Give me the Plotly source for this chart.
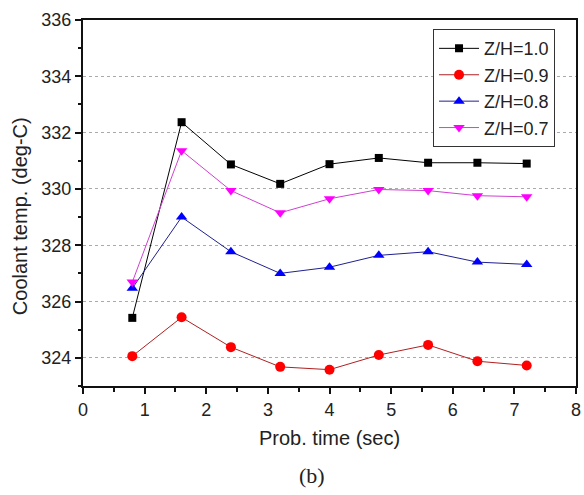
import plotly.graph_objects as go

time_s = [0.8, 1.6, 2.4, 3.2, 4.0, 4.8, 5.6, 6.4, 7.2]
zh_10 = [325.42, 332.37, 330.87, 330.18, 330.88, 331.10, 330.93, 330.93, 330.90]
zh_09 = [324.06, 325.44, 324.38, 323.68, 323.58, 324.10, 324.46, 323.88, 323.73]
zh_08 = [326.47, 329.00, 327.77, 327.00, 327.22, 327.64, 327.77, 327.40, 327.32]
zh_07 = [326.69, 331.36, 329.94, 329.15, 329.65, 329.98, 329.94, 329.76, 329.72]

series = [
    ("Z/H=1.0", zh_10, "#000000", "#000000", "square", 8),
    ("Z/H=0.9", zh_09, "#ff0000", "#b02020", "circle", 10),
    ("Z/H=0.8", zh_08, "#0000ff", "#202090", "triangle-up", 10),
    ("Z/H=0.7", zh_07, "#ff00ff", "#d040d0", "triangle-down", 10),
]

fig = go.Figure()
for name, ys, mcol, lcol, sym, sz in series:
    fig.add_trace(go.Scatter(
        x=time_s, y=ys, name=name, mode="lines+markers",
        line=dict(color=lcol, width=1),
        marker=dict(color=mcol, symbol=sym, size=sz, line=dict(width=0)),
    ))

font = "Arial, Liberation Sans, sans-serif"
fig.update_layout(
    width=584, height=495,
    margin=dict(l=83, r=8, t=20, b=109, autoexpand=False),
    paper_bgcolor="white", plot_bgcolor="white",
    font=dict(family=font, size=18, color="#222222"),
    showlegend=True,
    legend=dict(
        x=0.71, y=0.975, xanchor="left", yanchor="top",
        bgcolor="white", bordercolor="#333333", borderwidth=1,
        font=dict(family=font, size=18, color="#222222"),
        itemwidth=40, tracegroupgap=0,
    ),
    xaxis=dict(
        range=[0, 8], dtick=1, tick0=0, automargin=False,
        showline=True, linecolor="#111111", linewidth=2, mirror=True,
        ticks="outside", ticklen=6, tickwidth=2, tickcolor="#111111",
        minor=dict(ticks="outside", dtick=0.5, ticklen=4, tickwidth=2, tickcolor="#111111", showgrid=False),
        showgrid=False, zeroline=False,
        tickfont=dict(size=18),
    ),
    yaxis=dict(
        range=[323, 336], dtick=2, tick0=324, automargin=False,
        showline=True, linecolor="#111111", linewidth=2, mirror=True,
        ticks="outside", ticklen=6, tickwidth=2, tickcolor="#111111",
        minor=dict(ticks="outside", dtick=1, ticklen=3, tickwidth=2, tickcolor="#111111", showgrid=False),
        showgrid=True, gridcolor="#aaaaaa", griddash="dot", gridwidth=1,
        zeroline=False,
        tickfont=dict(size=18),
    ),
    annotations=[
        dict(text="Prob. time (sec)", x=0.5, y=0, xref="paper", yref="paper",
             xanchor="center", yanchor="middle",
             yshift=-52, showarrow=False, font=dict(size=20)),
        dict(text="Coolant temp. (deg-C)", x=0, y=0.464, xref="paper", yref="paper",
             xanchor="center", yanchor="middle",
             xshift=-63, textangle=-90, showarrow=False, font=dict(size=20)),
        dict(text="(b)", x=0.4645, y=0, xref="paper", yref="paper", yshift=-89,
             xanchor="center", yanchor="middle",
             showarrow=False,
             font=dict(family="Times New Roman, Liberation Serif, serif", size=22, color="#222222")),
    ],
)

fig.write_html("out.html", config={"displayModeBar": False},
               post_script="document.body.style.margin='0';document.body.style.overflow='hidden';")
